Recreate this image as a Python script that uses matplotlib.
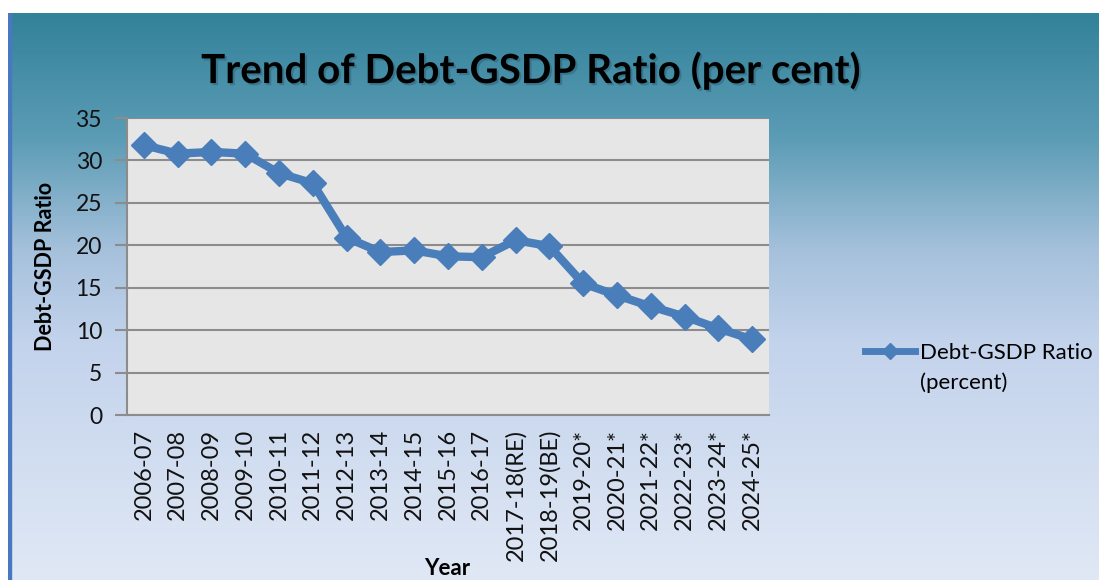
import numpy as np
import matplotlib
matplotlib.use("Agg")
import matplotlib.pyplot as plt
from matplotlib.colors import LinearSegmentedColormap
from matplotlib import patheffects as pe

# Debt-GSDP ratio by year (RE = revised estimate, BE = budget estimate, * = projection)
years = ["2006-07", "2007-08", "2008-09", "2009-10", "2010-11", "2011-12",
         "2012-13", "2013-14", "2014-15", "2015-16", "2016-17", "2017-18(RE)",
         "2018-19(BE)", "2019-20*", "2020-21*", "2021-22*", "2022-23*",
         "2023-24*", "2024-25*"]
debt_gsdp = [31.8, 30.8, 31.0, 30.8, 28.5, 27.3, 20.9, 19.2, 19.4, 18.7,
             18.6, 20.6, 19.9, 15.5, 14.1, 12.8, 11.6, 10.2, 8.9]
y_ticks = [0, 5, 10, 15, 20, 25, 30, 35]

line_color = "#4a7ebb"
font = ["Lato", "DejaVu Sans"]

fig = plt.figure(figsize=(10.99, 5.80), dpi=100, facecolor="white")

# gradient backdrop panel
bg = fig.add_axes([8 / 1099, 0, 1 - 8 / 1099, 1 - 13 / 580])
bg_cmap = LinearSegmentedColormap.from_list(
    "panel", [(0.0, "#32829a"), (0.22, "#5c9cb5"), (0.42, "#a6c1dc"),
              (0.58, "#c3d3ec"), (1.0, "#e0e8f5")])
bg.imshow(np.linspace(0, 1, 256).reshape(-1, 1), aspect="auto", cmap=bg_cmap,
          extent=[0, 1, 0, 1])
bg.axvspan(0, 3 / 1091, color="#4a78c0")
bg.set_xlim(0, 1)
bg.set_ylim(0, 1)
bg.axis("off")

ax = fig.add_axes([127 / 1099, 165 / 580, 642 / 1099, 297 / 580])
ax.set_facecolor("#e6e6e6")
x = np.arange(len(years))
ax.plot(x, debt_gsdp, color=line_color, lw=6, marker="D", ms=13,
        markeredgecolor=line_color, label="Debt-GSDP Ratio",
        solid_joinstyle="round")
ax.set_xlim(-0.5, len(years) - 0.5)
ax.set_ylim(0, 35)
ax.set_yticks(y_ticks)
ax.set_xticks(x)
ax.set_xticklabels(years, rotation=90, fontsize=17, family=font, color="#111111")
ax.set_yticklabels([str(v) for v in y_ticks], fontsize=16.5, family=font, color="#111111")
ax.grid(axis="y", color="#8c8c8c", lw=1.5)
ax.set_axisbelow(True)
for s in ["top", "right"]:
    ax.spines[s].set_visible(False)
for s in ["left", "bottom"]:
    ax.spines[s].set_color("#8c8c8c")
    ax.spines[s].set_linewidth(1.5)
ax.tick_params(axis="y", length=9, width=1.5, color="#8c8c8c", pad=9)
ax.tick_params(axis="x", length=0, pad=10)

ax.set_ylabel("Debt-GSDP Ratio", fontsize=15.5, fontweight="bold", family=font, labelpad=14)
fig.text(447 / 1099, 1 / 580, "Year", ha="center", va="bottom",
         fontsize=16, fontweight="bold", family=font)

fig.text(0.483, 0.878, "Trend of Debt-GSDP Ratio (per cent)", ha="center", va="center",
         fontsize=29, fontweight="bold", family=font, color="black",
         path_effects=[pe.withSimplePatchShadow(offset=(1.5, -1.5), shadow_rgbFace="#2a5a70", alpha=0.45)])

leg = ax.legend(loc="center left", bbox_to_anchor=((865 - 127) / 642, (415 - 353) / 297),
                frameon=False, borderpad=0, borderaxespad=0,
                prop={"family": font, "size": 16}, handlelength=2.25,
                handletextpad=0.22, markerscale=0.6)
for h in leg.legend_handles:
    h.set_linewidth(5)
# second line of the legend entry
fig.text(920 / 1099, 1 - 383 / 580, "(percent)", ha="left", va="center",
         fontsize=16, family=font)

fig.savefig("out.png", dpi=100, facecolor="white")
